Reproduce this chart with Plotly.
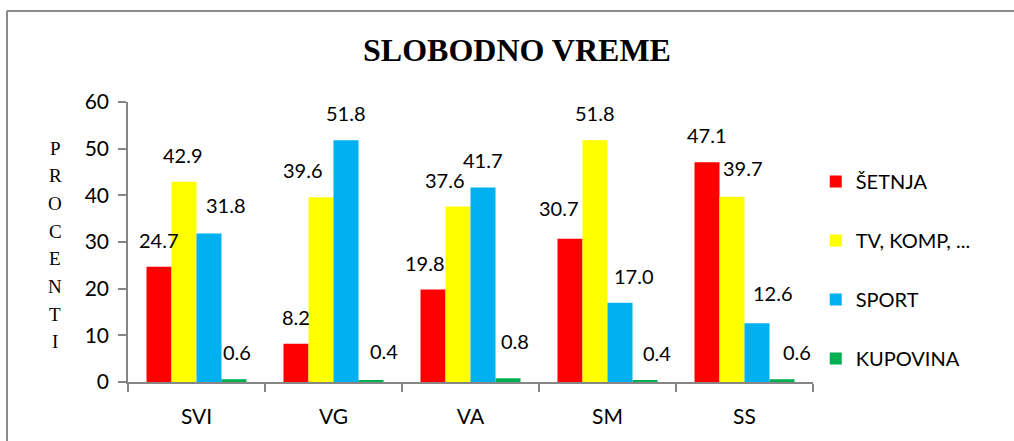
import plotly.graph_objects as go

categories = ["SVI", "VG", "VA", "SM", "SS"]
setnja = [24.7, 8.2, 19.8, 30.7, 47.1]
tv_komp = [42.9, 39.6, 37.6, 51.8, 39.7]
sport = [31.8, 51.8, 41.7, 17.0, 12.6]
kupovina = [0.6, 0.4, 0.8, 0.4, 0.6]
series_names = ["ŠETNJA", "TV, KOMP, ...", "SPORT", "KUPOVINA"]
y_ticks = [0, 10, 20, 30, 40, 50, 60]
title_text = "SLOBODNO VREME"
axis_label_letters = list("PROCENTI")

# styling
colors = ["#FF0000", "#FFFF00", "#00B0F0", "#00B050"]
label_dx = [  # horizontal nudges of value labels (px), per series per category
    [0, 0, -8, -11, 0],
    [-1, -18, -13, 0, 11],
    [17, 0, 0, 14, 16],
    [3, 13, 7, 12, 15],
]
label_dy = [
    [0, 0, 0, 4, 0],
    [0, 0, 0, 0, 2],
    [2, 0, 0, 0, 3],
    [0, 2, 10, 0, 0],
]
BAR_PX = 25
L, R, T, B = 128, 201, 102, 59
W, H = 1014, 441
PW, PH = W - L - R, H - T - B

all_series = [setnja, tv_komp, sport, kupovina]
fig = go.Figure()
for i, (name, vals) in enumerate(zip(series_names, all_series)):
    fig.add_trace(go.Bar(
        x=categories, y=vals, name=name, marker_color=colors[i],
        marker_line_width=0, legendgroup=name,
    ))

font_main = "Lato, 'Open Sans', sans-serif"
annotations = []
for i, vals in enumerate(all_series):
    for j, (c, v) in enumerate(zip(categories, vals)):
        annotations.append(dict(
            x=c, y=v, xref="x", yref="y", text=f"{v:.1f}", showarrow=False,
            xanchor="center", yanchor="bottom",
            xshift=(i - 1.5) * BAR_PX + label_dx[i][j], yshift=13 + label_dy[i][j],
            font=dict(family=font_main, size=20, color="#000000"),
        ))

# vertical axis label, one letter per line
y_first, y_step = 148, 27.7
for k, ch in enumerate(axis_label_letters):
    py = y_first + k * y_step
    annotations.append(dict(
        x=(55 - L) / PW, y=(H - B - py) / PH, xref="paper", yref="paper",
        text=ch, showarrow=False, xanchor="center", yanchor="middle",
        font=dict(family="'Liberation Serif', 'Times New Roman', serif", size=19, color="#000000"),
    ))

# outer frame (only top and left edges are inside the picture)
fx0, fy1 = (7 - L) / PW, (H - B - 11) / PH
frame_style = dict(color="#8C8C8C", width=2)
shapes = [
    dict(type="line", xref="paper", yref="paper", x0=fx0, x1=(W + 20 - L) / PW, y0=fy1, y1=fy1,
         line=frame_style, layer="below"),
    dict(type="line", xref="paper", yref="paper", x0=fx0, x1=fx0, y0=fy1, y1=-(B + 20) / PH,
         line=frame_style, layer="below"),
]

fig.update_layout(
    width=W, height=H,
    margin=dict(l=L, r=R, t=T, b=B),
    paper_bgcolor="white", plot_bgcolor="white",
    barmode="group", bargap=0.27, bargroupgap=0,
    title=dict(text=f"<b>{title_text}</b>", x=517 / W, xanchor="center",
               y=1 - 50 / H, yanchor="middle",
               font=dict(family="'Liberation Serif', 'Times New Roman', serif", size=32, color="#000000")),
    legend=dict(x=1.004, xanchor="left", y=0.4, yanchor="middle",
                font=dict(family=font_main, size=20, color="#000000"),
                tracegroupgap=30, bgcolor="rgba(0,0,0,0)"),
    annotations=annotations,
    shapes=shapes,
)
fig.update_xaxes(
    showline=True, linecolor="#868686", linewidth=1.5,
    ticks="outside", tickson="boundaries", ticklen=8, tickcolor="#868686", tickwidth=1.5,
    tickfont=dict(family=font_main, size=21, color="#000000"),
    showgrid=False, zeroline=False, ticklabelstandoff=15,
)
fig.update_yaxes(
    range=[0, 60], tickvals=y_ticks, showline=True, linecolor="#868686", linewidth=1.5,
    ticks="outside", ticklen=8, tickcolor="#868686", tickwidth=1.5,
    tickfont=dict(family=font_main, size=21, color="#000000"),
    showgrid=False, zeroline=False, ticklabelstandoff=5,
)

fig.write_html(
    "out.html",
    config={"displayModeBar": False},
    post_script=(
        "document.documentElement.style.overflow='hidden';"
        "document.body.style.margin='0';document.body.style.overflow='hidden';"
    ),
)
